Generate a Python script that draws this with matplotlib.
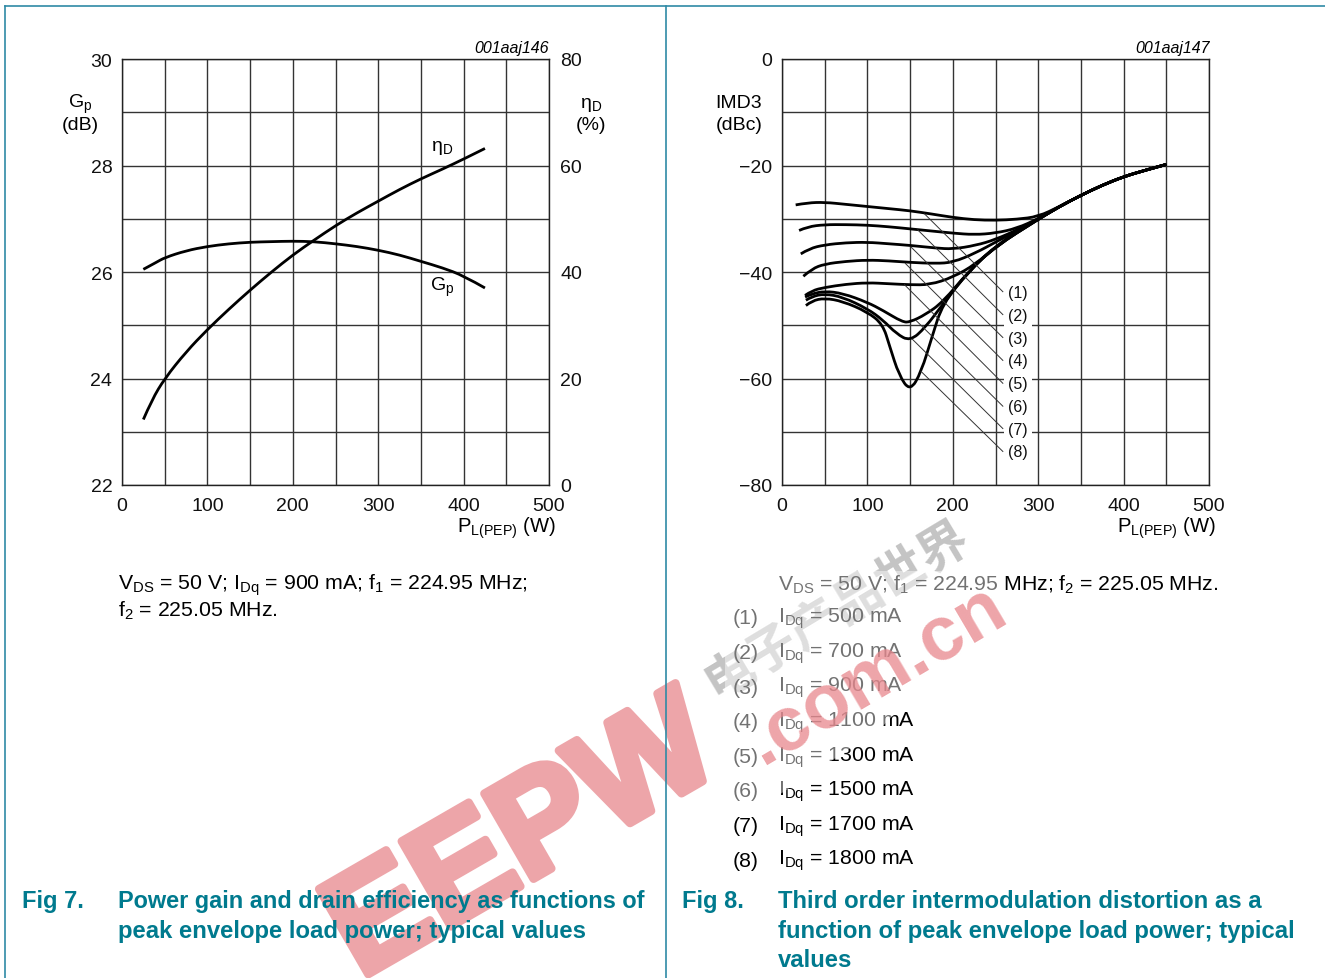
import matplotlib
matplotlib.use("Agg")
import matplotlib.pyplot as plt
import matplotlib.patheffects as pe
from matplotlib.patches import Polygon, PathPatch
from matplotlib.path import Path
from matplotlib import font_manager

plt.rcParams['font.family'] = ['Liberation Sans', 'DejaVu Sans']
plt.rcParams['mathtext.default'] = 'regular'

W, H = 1325, 979
TEAL = '#007a8e'
FRAME = '#2f8aa5'
PINK = '#eda5a9'

# Fig 7
power_gp = [25, 40, 50, 75, 100, 125, 150, 175, 200, 225, 250, 275, 300, 325, 350, 375, 400, 425]
gain = [26.05, 26.18, 26.27, 26.4, 26.48, 26.53, 26.56, 26.57, 26.58, 26.57, 26.53, 26.48, 26.41, 26.32, 26.2, 26.08, 25.93, 25.7]
power_eta = [25, 35, 50, 75, 100, 125, 150, 175, 200, 225, 250, 275, 300, 325, 350, 375, 400, 425]
efficiency = [12.3, 16.0, 20.0, 25.0, 29.2, 33.0, 36.6, 40.0, 43.2, 46.0, 48.7, 51.1, 53.3, 55.5, 57.5, 59.3, 61.2, 63.2]

# Fig 8, the curves run together above about 300 W
tail_power = [325, 350, 375, 400, 425, 450]
tail_imd = [-27.7, -25.6, -23.7, -22.1, -20.9, -19.8]

imd_power = [
    [16, 30, 50, 75, 100, 125, 150, 175, 200, 225, 250, 275, 300],
    [20, 30, 50, 75, 100, 125, 150, 175, 200, 225, 250, 275, 300],
    [22, 32, 50, 75, 100, 125, 150, 180, 200, 227, 250, 278, 300],
    [25, 35, 50, 75, 100, 125, 150, 180, 200, 227, 250, 278, 300],
    [27, 35, 50, 75, 100, 125, 150, 173, 200, 227, 250, 278, 300],
    [27, 35, 50, 71, 100, 118, 141, 150, 168, 188, 219, 250, 300],
    [28, 35, 50, 71, 100, 118, 134, 150, 168, 188, 219, 250, 300],
    [28, 35, 50, 71, 100, 118, 126, 137, 150, 163, 176, 188, 219, 250, 300],
]
imd_values = [
    [-27.4, -27.0, -26.9, -27.3, -27.7, -28.1, -28.5, -29.1, -29.75, -30.2, -30.3, -30.1, -29.6],
    [-32.2, -31.5, -31.1, -31.1, -31.2, -31.5, -31.9, -32.3, -32.7, -33.0, -32.7, -31.8, -30.0],
    [-36.6, -35.6, -34.9, -34.5, -34.4, -34.7, -35.0, -35.5, -35.7, -35.0, -33.9, -31.9, -30.1],
    [-40.8, -39.4, -38.5, -38.0, -37.75, -37.9, -38.2, -38.4, -38.2, -36.4, -34.4, -32.0, -30.1],
    [-44.4, -43.5, -42.9, -42.3, -42.0, -42.2, -42.4, -42.4, -41.0, -38.5, -35.2, -32.1, -30.1],
    [-44.7, -44.1, -43.6, -44.0, -45.7, -47.2, -49.4, -49.4, -48.0, -45.7, -39.8, -35.2, -30.1],
    [-45.3, -44.6, -44.1, -44.7, -46.9, -49.0, -51.6, -53.0, -50.4, -46.1, -39.8, -35.2, -30.1],
    [-46.3, -45.4, -44.9, -45.5, -47.5, -49.8, -53.9, -59.4, -62.4, -58.8, -52.0, -46.0, -39.8, -35.2, -30.1],
]
leader_tip_x = [167, 159, 151, 144.5, 143.5, 157, 152.5, 163]
leader_tip_y = [-29.1, -32.1, -35.3, -38.4, -42.4, -49.1, -52.6, -58.7]
leader_end_x = [258.6] * 8
leader_end_y = [-43.7, -48.0, -52.3, -56.6, -60.9, -65.2, -69.4, -73.7]
curve_labels = ['(1)', '(2)', '(3)', '(4)', '(5)', '(6)', '(7)', '(8)']
idq_values = [500, 700, 900, 1100, 1300, 1500, 1700, 1800]


def make_axes(fig, left):
    ax = fig.add_axes([left / W, 1 - 486 / H, 427 / W, 426 / H])
    ax.set_xlim(0, 500)
    ax.set_xticks(range(0, 501, 100))
    ax.set_xticks(range(50, 500, 100), minor=True)
    ax.grid(which='both', color='#333333', linewidth=1.0)
    ax.tick_params(which='both', length=0, labelsize=14, colors='#111111')
    ax.tick_params(axis='x', pad=8.5)
    ax.tick_params(axis='y', pad=7)
    ax.set_axisbelow(True)
    for side in ax.spines.values():
        side.set_linewidth(1.0)
        side.set_color('#222222')
    return ax


def draw_curve(ax, xs, ys):
    # read points as quadratic control points so the line stays smooth
    pts = list(zip(xs, ys))
    verts = [pts[0]]
    codes = [Path.MOVETO]
    for a, b in zip(pts[1:-2], pts[2:-1]):
        verts += [a, ((a[0] + b[0]) / 2, (a[1] + b[1]) / 2)]
        codes += [Path.CURVE3, Path.CURVE3]
    verts += [pts[-2], pts[-1]]
    codes += [Path.CURVE3, Path.CURVE3]
    ax.add_patch(PathPatch(Path(verts, codes), facecolor='none', edgecolor='black',
                           linewidth=2.0, joinstyle='round', capstyle='butt'))


fig = plt.figure(figsize=(W / 100, H / 100), dpi=100)

# Fig 7 chart
ax1 = make_axes(fig, 122)
ax1.set_ylim(22, 30)
ax1.set_yticks(range(22, 31, 2))
ax1.set_yticks(range(23, 30, 2), minor=True)
draw_curve(ax1, power_gp, gain)
ax1b = ax1.twinx()
ax1b.set_ylim(0, 80)
ax1b.set_yticks(range(0, 81, 20))
ax1b.tick_params(length=0, labelsize=14, pad=8, colors='#111111')
draw_curve(ax1b, power_eta, efficiency)
for side in ax1b.spines.values():
    side.set_visible(False)

# Fig 8 chart
ax2 = make_axes(fig, 782)
ax2.set_ylim(-80, 0)
ax2.set_yticks(range(-80, 1, 20))
ax2.set_yticklabels(['\u221280', '\u221260', '\u221240', '\u221220', '0'])
ax2.set_yticks(range(-70, 0, 20), minor=True)
for px, py in zip(imd_power, imd_values):
    draw_curve(ax2, px + tail_power, py + tail_imd)
for i in range(8):
    ax2.plot([leader_tip_x[i], leader_end_x[i]], [leader_tip_y[i], leader_end_y[i]],
             color='#333333', linewidth=0.7)
    ax2.text(264.5, leader_end_y[i] - 0.1, curve_labels[i], fontsize=11.5, va='center', ha='left', color='#111111',
             bbox=dict(facecolor='white', edgecolor='none', pad=3))

# everything else sits on a page layer in pixel coordinates
page = fig.add_axes([0, 0, 1, 1], zorder=10)
page.set_xlim(0, W)
page.set_ylim(H, 0)
page.axis('off')
page.patch.set_alpha(0)

# EEPW watermark sits under the page text
names = {f.name for f in font_manager.fontManager.ttflist}
narrow = 'Liberation Sans Narrow' if 'Liberation Sans Narrow' in names else 'Liberation Sans'
page.text(360, 980, 'EEPW', fontsize=126 if narrow != 'Liberation Sans' else 103, weight='bold', family=narrow,
          color=PINK, rotation=30, rotation_mode='anchor', ha='left', va='baseline', zorder=1, clip_on=True,
          path_effects=[pe.withStroke(linewidth=6, foreground=PINK)])
page.text(716, 700, '电子产品世界', fontsize=36, weight='bold', color='#c4c4c4',
          family=['Noto Sans CJK SC', 'DejaVu Sans'],
          rotation=31, rotation_mode='anchor', ha='left', va='baseline', zorder=1)

page.plot([5, 1325], [7, 7], color=FRAME, linewidth=1.2)
page.plot([5, 5], [7, 979], color=FRAME, linewidth=1.2)
page.plot([666, 666], [7, 979], color=FRAME, linewidth=1.2)

page.text(549, 48, '001aaj146', fontsize=11.5, style='italic', ha='right', va='center')
page.text(1210, 48, '001aaj147', fontsize=11.5, style='italic', ha='right', va='center')

page.text(80, 104, '$G_p$', fontsize=14, ha='center', va='center')
page.text(80, 126, '(dB)', fontsize=14, ha='center', va='center')
page.text(591, 105, '\u03b7$_D$', fontsize=14, ha='center', va='center')
page.text(591, 126, '(%)', fontsize=14, ha='center', va='center')
page.text(739, 103, 'IMD3', fontsize=14, ha='center', va='center')
page.text(739, 126, '(dBc)', fontsize=14, ha='center', va='center')
page.text(442, 148, '\u03b7$_D$', fontsize=14, ha='center', va='center')
page.text(442, 287, '$G_p$', fontsize=14, ha='center', va='center')
page.text(556, 528, '$P_{L(PEP)}$ (W)', fontsize=14.6, ha='right', va='center')
page.text(1216, 528, '$P_{L(PEP)}$ (W)', fontsize=14.6, ha='right', va='center')

page.text(118, 585, '$V_{DS}$ = 50 V; $I_{Dq}$ = 900 mA; $f_1$ = 224.95 MHz;', fontsize=15.3, va='center')
page.text(118, 611, '$f_2$ = 225.05 MHz.', fontsize=15.3, va='center')
page.text(778, 585, '$V_{DS}$ = 50 V; $f_1$ = 224.95 MHz; $f_2$ = 225.05 MHz.', fontsize=15.3, va='center')
for i in range(8):
    y = 619 + i * 34.6
    page.text(733, y, curve_labels[i], fontsize=15.3, va='center')
    page.text(778, y, f'$I_{{Dq}}$ = {idq_values[i]} mA', fontsize=15.3, va='center')

page.text(22, 902, 'Fig 7.', fontsize=17, weight='bold', color=TEAL, va='center')
page.text(118, 902, 'Power gain and drain efficiency as functions of', fontsize=16.9, weight='bold', color=TEAL, va='center')
page.text(118, 932, 'peak envelope load power; typical values', fontsize=17.2, weight='bold', color=TEAL, va='center')
page.text(682, 902, 'Fig 8.', fontsize=17, weight='bold', color=TEAL, va='center')
page.text(778, 902, 'Third order intermodulation distortion as a', fontsize=17.2, weight='bold', color=TEAL, va='center')
page.text(778, 932, 'function of peak envelope load power; typical', fontsize=17.2, weight='bold', color=TEAL, va='center')
page.text(778, 961, 'values', fontsize=17.2, weight='bold', color=TEAL, va='center')

# pale haze of the watermark over the text near it, the red .com.cn goes on top of it
page.add_patch(Polygon([(725, 805), (765, 805), (880, 730), (1005, 600), (1005, 572), (770, 572), (725, 600)],
                       closed=True, facecolor='white', edgecolor='none', alpha=0.45, zorder=5))
page.text(762, 765, '.com.cn', fontsize=55, weight='bold', color='#e8868c', alpha=0.75,
          rotation=30.5, rotation_mode='anchor', ha='left', va='baseline', zorder=6)

fig.savefig('out.png', dpi=100)
